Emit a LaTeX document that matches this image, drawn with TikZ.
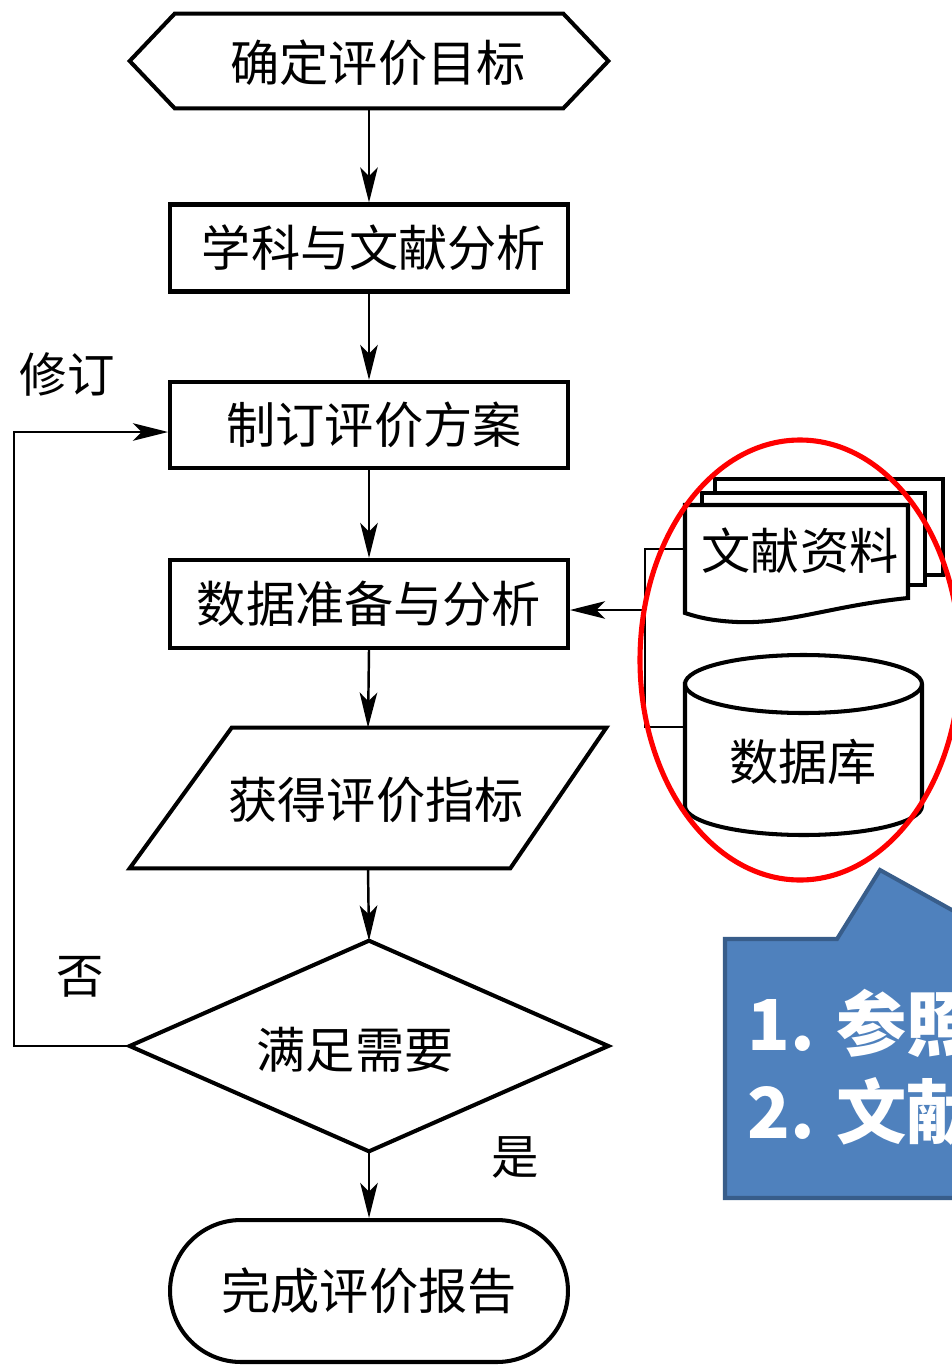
\documentclass[tikz,border=0pt]{standalone}
\usepackage{fontspec}
\setmainfont{Noto Sans CJK SC}
\usetikzlibrary{arrows.meta,calc}
\definecolor{callfill}{RGB}{79,129,189}
\definecolor{callline}{RGB}{56,93,138}
\newcommand\fsmain{\fontsize{28pt}{30pt}\selectfont}
\newcommand\fscall{\fontsize{40pt}{44pt}\selectfont\bfseries}
\begin{document}
\begin{tikzpicture}[x=0.02cm,y=-0.02cm,
  shapeline/.style={draw, line width=2.3pt, line join=miter, fill=white},
  box/.style={draw, line width=2.3pt, minimum width=7.96cm, inner sep=0pt, font=\fsmain},
  plain/.style={inner sep=0pt, font=\fsmain},
  arr/.style={line width=1.4pt, -{Stealth[length=20pt,width=10pt,inset=5pt]}},
  link/.style={line width=1.4pt}]
\useasboundingbox (0,0) rectangle (952,1365);
\clip (0,0) rectangle (952,1365);

% hexagon start
\node[plain, minimum width=9.56cm, minimum height=1.88cm] (h) at (369,61) {};
\draw[shapeline] (h.west) -- ($(h.north west)+(45,0)$) -- ($(h.north east)+(-45,0)$)
  -- (h.east) -- ($(h.south east)+(-45,0)$) -- ($(h.south west)+(45,0)$) -- cycle;
\node[plain] (ht) at (378,63) {确定评价目标};

% process boxes
\node[box, minimum height=1.74cm] (b1) at (369,248) {\hspace{0.2cm}学科与文献分析};
\node[box, minimum height=1.72cm] (b2) at (369,425) {\hspace{0.2cm}制订评价方案};
\node[box, minimum height=1.76cm] (b3) at (369,604) {数据准备与分析};

% parallelogram
\node[plain, minimum width=9.52cm, minimum height=2.8cm] (p) at (368,798) {};
\draw[shapeline] ($(p.north west)+(102,0)$) -- (p.north east)
  -- ($(p.south east)+(-96,0)$) -- (p.south west) -- cycle;
\node[plain] (pt) at (376,800) {获得评价指标};

% diamond
\node[plain, minimum width=9.56cm, minimum height=4.2cm] (d) at (369,1046) {};
\draw[shapeline] (d.west) -- (d.north) -- (d.east) -- (d.south) -- cycle;
\node[plain] (dt) at (355,1050) {满足需要};

% terminal
\node[box, minimum height=2.84cm, rounded corners=1.42cm] (t) at (369,1291) {完成评价报告};

% main connectors
\draw[arr] (h.south) -- (b1.north);
\draw[arr] (b1.south) -- (b2.north);
\draw[arr] (b2.south) -- (b3.north);
\draw[arr] (b3.south) -- (p.north);
\draw[arr] (p.south) -- (d.north);
\draw[arr] (d.south) -- (t.north);

% feedback loop
\coordinate (fb) at (14,1046);
\draw[arr] (d.west) -- (fb) |- ($(b2.west)+(0,7)$);
\node[plain, font=\fontsize{27pt}{29pt}\selectfont] (rev) at (67,374) {修订};
\node[plain, font=\fontsize{27pt}{29pt}\selectfont] (no) at (80,977) {否};
\node[plain, font=\fontsize{27pt}{29pt}\selectfont] (yes) at (515,1157) {是};

% stacked documents
\draw[shapeline] (715,479) rectangle (943,575);
\draw[shapeline] (702,493) rectangle (925,585);
\draw[shapeline] (685,505) -- (908,505) -- (908,598)
  .. controls (830,606) and (790,624) .. (737,622)
  .. controls (715,621) and (700,618) .. (685,613) -- cycle;
\node[plain, minimum width=4.46cm, minimum height=1.76cm] (doc) at (796,549) {};
\node[plain] (doct) at (800,551) {文献资料};

% database
\draw[shapeline] (685,684) -- (685,806) arc[start angle=180, end angle=0, x radius=118.5, y radius=29]
  -- (922,684) arc[start angle=0, end angle=-180, x radius=118.5, y radius=29] -- cycle;
\draw[line width=2.3pt] (685,684) arc[start angle=180, end angle=0, x radius=118.5, y radius=29];
\node[plain, minimum width=4.74cm, minimum height=3.6cm] (db) at (803,745) {};
\node[plain] (dbt) at (803,762) {数据库};

% bracket to data preparation
\coordinate (j1) at (645,549);
\coordinate (j2) at (645,727);
\coordinate (j3) at (645,610);
\draw[link] (doc.west) -- (j1) -- (j2) -- (j2 -| db.west);
\draw[arr] (j3) -- (j3 -| b3.east);

% red ellipse
\draw[red, line width=2.9pt] (800,660) ellipse [x radius=160, y radius=220];

% callout
\draw[fill=callfill, draw=callline, line width=2.3pt, line join=miter]
  (725,939) -- (837,939) -- (880,870) -- (1004,939) -- (1100,939)
  -- (1100,1198) -- (725,1198) -- cycle;
\node[anchor=base west, inner sep=0pt, text=white, font=\fscall] (c1) at (747,1050) {1. 参照};
\node[anchor=base west, inner sep=0pt, text=white, font=\fscall] (c2) at (747,1138) {2. 文献};
\end{tikzpicture}
\end{document}
